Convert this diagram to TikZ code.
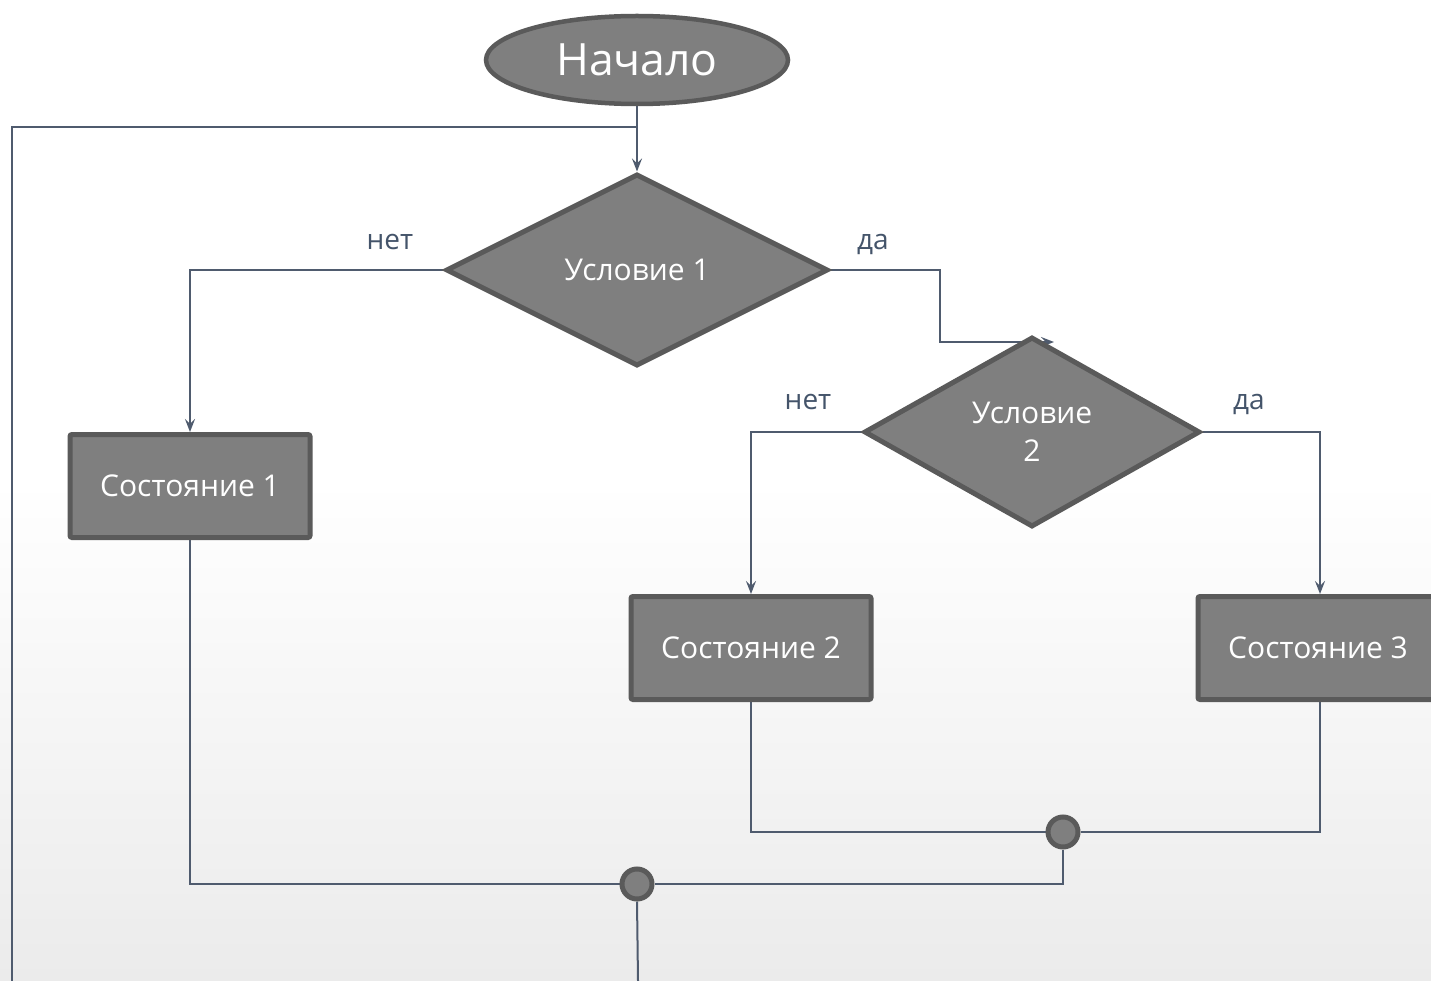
\documentclass[tikz,border=0pt]{standalone}
\usepackage{fontspec}
\setmainfont{Open Sans}
\usetikzlibrary{shapes.geometric,arrows.meta,calc}
\pgfdeclarelayer{background}
\pgfsetlayers{background,main}
\definecolor{linec}{HTML}{4F5B6E}
\definecolor{labc}{HTML}{44546A}
\definecolor{boxfill}{HTML}{7F7F7F}
\definecolor{boxdraw}{HTML}{5A5A5A}
\definecolor{bgbot}{HTML}{EBEBEB}
\tikzset{
  conn/.style={draw=linec, line width=2pt},
  arr/.style={conn, -{Stealth[length=13pt,width=10pt,inset=5pt]}},
  statebox/.style={rectangle, rounded corners=2pt, fill=boxfill, draw=boxdraw, line width=5pt,
    minimum width=240pt, minimum height=103pt, text=white, font=\fontsize{30}{36}\selectfont, inner sep=0pt},
  cond/.style={diamond, aspect=2, fill=boxfill, draw=boxdraw, line width=5pt, text=white,
    font=\fontsize{30}{38}\selectfont, inner sep=0pt, align=center},
  startnode/.style={ellipse, fill=boxfill, draw=boxdraw, line width=4.5pt, minimum width=302pt,
    minimum height=88pt, text=white, font=\fontsize{44.5}{50}\selectfont, inner sep=0pt},
  junction/.style={circle, fill=boxfill, draw=boxdraw, line width=5pt, minimum size=30pt, inner sep=0pt},
  lab/.style={text=labc, font=\fontsize{28}{32}\selectfont, inner sep=0pt}
}
\begin{document}
\begin{tikzpicture}[x=1pt,y=-1pt]
\useasboundingbox (0,0) rectangle (1431,981);
\clip (0,0) rectangle (1431,981);

% nodes
\node[startnode] (start) at (637,60) {Начало};
\node[cond, minimum width=382pt, minimum height=192pt] (c1) at (637,270) {Условие 1};
\node[cond, minimum width=336pt, minimum height=190pt] (c2) at (1032,432) {Условие\\2};
\node[statebox] (s1) at (190,486) {Состояние 1};
\node[statebox] (s2) at (751,648) {Состояние 2};
\node[statebox] (s3) at (1318,648) {Состояние 3};
\node[junction] (j2) at (1063,832) {};
\node[junction] (j1) at (637,884) {};

\coordinate (loopL) at (12,127);
\coordinate (loopB) at (12,981);
\coordinate (outB) at (638,981);
\coordinate (c2in) at (1054,342);
\coordinate (s3in) at (1320,594);
\coordinate (s3out) at (1320,701);

% labels
\node[lab] (l1) at (390,242) {нет};
\node[lab] (l2) at (873,244) {да};
\node[lab] (l3) at (808,402) {нет};
\node[lab] (l4) at (1249,404) {да};

\begin{pgfonlayer}{background}
\fill[white] (0,0) rectangle (1431,981);
\shade[top color=white, bottom color=bgbot] (0,480) rectangle (1431,981);
\draw[conn] (start.south |- loopL) -- (loopL) -- (loopB);
\draw[arr] (start.south) -- (c1.north);
\draw[arr] (c1.west) -| (s1.north);
\draw[arr] (c1.east) -- (940,270) -- (940,342) -- (c2in);
\draw[arr] (c2.west) -| (s2.north);
\draw[arr] (c2.east) -| (s3in);
\draw[conn] (s2.south) |- (j2.west);
\draw[conn] (s3out) |- (j2.east);
\draw[conn] (j2.south) |- (j1.east);
\draw[conn] (s1.south) |- (j1.west);
\draw[conn] (j1.south) -- (outB);
\end{pgfonlayer}
\end{tikzpicture}
\end{document}
